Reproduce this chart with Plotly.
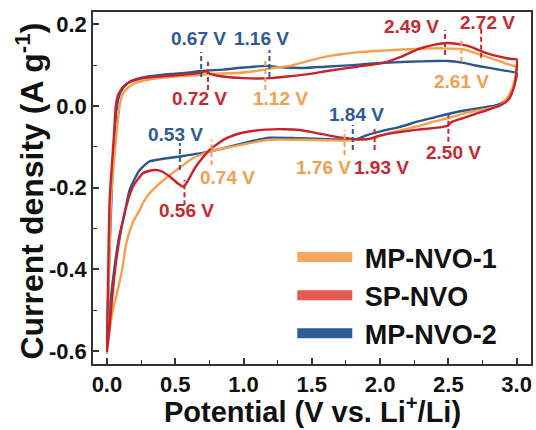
import plotly.graph_objects as go

# ---------------- data ----------------
# MP-NVO-1 (orange)
mp1_ox_v = [0.0, 0.01, 0.02, 0.03, 0.05, 0.07, 0.093, 0.11, 0.14, 0.2, 0.3, 0.4, 0.5, 0.6, 0.7, 0.8, 0.9, 1.0,
            1.12, 1.2, 1.34, 1.45, 1.58, 1.7, 1.83, 2.0, 2.1, 2.28, 2.47, 2.6, 2.74, 2.91, 3.0]
mp1_ox_i = [-0.60, -0.48, -0.35, -0.23, -0.14, -0.07, 0.0, 0.025, 0.04, 0.055, 0.064, 0.069, 0.072, 0.074, 0.077,
            0.079, 0.080, 0.082, 0.087, 0.092, 0.098, 0.108, 0.119, 0.126, 0.131, 0.135, 0.137, 0.140, 0.141, 0.139,
            0.125, 0.105, 0.096]
mp1_red_v = [3.0, 2.99, 2.97, 2.92, 2.87, 2.77, 2.64, 2.52, 2.40, 2.26, 2.05, 1.97, 1.85, 1.76, 1.6, 1.4, 1.19,
             1.0, 0.87, 0.77, 0.74, 0.63, 0.51, 0.385, 0.31, 0.263, 0.24, 0.19, 0.14, 0.117, 0.08, 0.044, 0.02, 0.0]
mp1_red_i = [0.096, 0.07, 0.045, 0.015, 0.0, -0.008, -0.016, -0.028, -0.038, -0.051, -0.068, -0.078, -0.083,
             -0.085, -0.084, -0.083, -0.083, -0.094, -0.103, -0.110, -0.113, -0.128, -0.157, -0.19, -0.215, -0.238,
             -0.255, -0.285, -0.34, -0.39, -0.45, -0.5, -0.55, -0.6]

# SP-NVO (red)
sp_ox_v = [0.0, 0.005, 0.012, 0.02, 0.035, 0.05, 0.065, 0.08, 0.10, 0.13, 0.18, 0.25, 0.35, 0.5, 0.6, 0.68, 0.72,
           0.76, 0.85, 1.0, 1.2, 1.35, 1.5, 1.6, 1.83, 2.03, 2.15, 2.28, 2.4, 2.49, 2.6, 2.68, 2.74, 2.82, 2.91,
           2.96, 3.0, 3.0]
sp_ox_i = [-0.605, -0.5, -0.35, -0.23, -0.15, -0.08, 0.0, 0.025, 0.038, 0.05, 0.06, 0.067, 0.071, 0.075, 0.078,
           0.081, 0.085, 0.078, 0.072, 0.068, 0.068, 0.073, 0.079, 0.085, 0.096, 0.106, 0.120, 0.139, 0.150, 0.154,
           0.150, 0.143, 0.134, 0.125, 0.118, 0.115, 0.114, 0.09]
sp_red_v = [2.99, 2.97, 2.94, 2.89, 2.83, 2.77, 2.64, 2.56, 2.52, 2.50, 2.45, 2.28, 2.1, 1.97, 1.93, 1.85, 1.75,
            1.65, 1.5, 1.41, 1.3, 1.16, 1.0, 0.87, 0.75, 0.65, 0.59, 0.56, 0.52, 0.46, 0.40, 0.36, 0.30, 0.263,
            0.19, 0.141, 0.10, 0.06, 0.03, 0.0]
sp_red_i = [0.06, 0.035, 0.015, 0.003, -0.005, -0.012, -0.026, -0.035, -0.040, -0.048, -0.052, -0.058, -0.066,
            -0.075, -0.080, -0.082, -0.079, -0.074, -0.064, -0.059, -0.057, -0.058, -0.065, -0.080, -0.108,
            -0.149, -0.185, -0.198, -0.190, -0.173, -0.160, -0.157, -0.160, -0.165, -0.198, -0.247, -0.31, -0.40,
            -0.5, -0.605]

# MP-NVO-2 (blue)
mp2_ox_v = [0.0, 0.01, 0.025, 0.04, 0.055, 0.07, 0.09, 0.12, 0.16, 0.22, 0.30, 0.40, 0.50, 0.60, 0.67, 0.75, 0.85,
            1.0, 1.16, 1.3, 1.45, 1.6, 1.8, 2.0, 2.2, 2.4, 2.5, 2.6, 2.7, 2.8, 2.9, 3.0]
mp2_ox_i = [-0.60, -0.45, -0.30, -0.17, -0.08, -0.01, 0.025, 0.045, 0.058, 0.066, 0.072, 0.076, 0.079, 0.082,
            0.085, 0.087, 0.089, 0.094, 0.098, 0.094, 0.093, 0.096, 0.100, 0.105, 0.108, 0.110, 0.110, 0.106, 0.099,
            0.093, 0.087, 0.080]
mp2_red_v = [2.99, 2.97, 2.94, 2.89, 2.83, 2.77, 2.64, 2.52, 2.4, 2.28, 2.14, 2.03, 1.9, 1.84, 1.8, 1.65, 1.4,
             1.19, 1.0, 0.75, 0.53, 0.385, 0.31, 0.24, 0.166, 0.125, 0.09, 0.056, 0.02, 0.0]
mp2_red_i = [0.06, 0.04, 0.02, 0.007, 0.0, -0.003, -0.010, -0.018, -0.028, -0.038, -0.052, -0.060, -0.072, -0.080,
             -0.083, -0.082, -0.079, -0.078, -0.091, -0.112, -0.124, -0.131, -0.136, -0.157, -0.206, -0.271, -0.32,
             -0.394, -0.5, -0.6]

series_names = ["MP-NVO-1", "SP-NVO", "MP-NVO-2"]

# peak annotations: label, potential of the dashed marker, dash bottom/top current, text position
peak_labels = ["0.67 V", "1.16 V", "0.72 V", "1.12 V", "2.49 V", "2.72 V", "2.61 V",
               "1.84 V", "1.76 V", "1.93 V", "2.50 V", "0.53 V", "0.74 V", "0.56 V"]
peak_series = [2, 2, 1, 0, 1, 1, 0, 2, 0, 1, 1, 2, 0, 1]
peak_v = [0.69, 1.19, 0.74, 1.16, 2.475, 2.74, 2.595, 1.80, 1.74, 1.96, 2.50, 0.534, 0.766, 0.568]
peak_i_lo = [0.071, 0.071, 0.039, 0.039, 0.125, 0.118, 0.108, -0.108, -0.120, -0.108, -0.088, -0.157, -0.145, -0.243]
peak_i_hi = [0.132, 0.137, 0.108, 0.113, 0.186, 0.191, 0.162, -0.047, -0.059, -0.054, -0.022, -0.091, -0.083, -0.181]
label_v = [0.671, 1.134, 0.68, 1.27, 2.231, 2.787, 2.597, 1.829, 1.587, 2.012, 2.535, 0.501, 0.881, 0.582]
label_i = [0.165, 0.166, 0.017, 0.017, 0.194, 0.204, 0.061, -0.021, -0.151, -0.151, -0.114, -0.071, -0.175, -0.255]

x_ticks = [0.0, 0.5, 1.0, 1.5, 2.0, 2.5, 3.0]
y_ticks = [-0.6, -0.4, -0.2, 0.0, 0.2]
x_title = "Potential (V vs. Li<sup>+</sup>/Li)"
y_title = "Current density (A g<sup>-1</sup>)"

# ---------------- styling ----------------
line_colors = ["#F5A04C", "#C8232C", "#2B5690"]
legend_colors = ["#F5A85C", "#E65A50", "#2F5D95"]
text_colors = ["#F2A050", "#C42A2E", "#2E5B93"]
FONT = "Liberation Sans, Arial, sans-serif"

curves = [(mp1_ox_v + mp1_red_v, mp1_ox_i + mp1_red_i),
          (sp_ox_v + sp_red_v, sp_ox_i + sp_red_i),
          (mp2_ox_v + mp2_red_v, mp2_ox_i + mp2_red_i)]

fig = go.Figure()
# draw order: blue first, then orange, red on top
for k in [2, 0, 1]:
    xv, yv = curves[k]
    fig.add_trace(go.Scatter(x=xv, y=yv, mode="lines", showlegend=False,
                             line=dict(color=line_colors[k], width=2.4, shape="spline", smoothing=0.6),
                             hoverinfo="skip"))
# legend entries
for k in range(3):
    fig.add_trace(go.Scatter(x=[None], y=[None], mode="lines", name="\u00a0" + series_names[k],
                             line=dict(color=legend_colors[k], width=12)))

for lab, s, pv, lo, hi, lv, li in zip(peak_labels, peak_series, peak_v, peak_i_lo, peak_i_hi, label_v, label_i):
    fig.add_shape(type="line", x0=pv, x1=pv, y0=lo, y1=hi, xref="x", yref="y",
                  line=dict(color=text_colors[s], width=2, dash="5px,3px"))
    fig.add_annotation(x=lv, y=li, text=lab, showarrow=False, xref="x", yref="y",
                       font=dict(family=FONT, size=19, color=text_colors[s], weight="bold"))

# axis titles
fig.add_annotation(x=0.5, y=-0.132, xref="paper", yref="paper", text=x_title, showarrow=False,
                   xanchor="center", yanchor="middle",
                   font=dict(family=FONT, size=29, color="#111111", weight="bold"))
fig.add_annotation(x=-0.146, y=0.49, xref="paper", yref="paper", text=y_title, showarrow=False,
                   textangle=-90, xanchor="center", yanchor="middle",
                   font=dict(family=FONT, size=32, color="#111111", weight="bold"))

axis_common = dict(showline=True, linecolor="#333333", linewidth=1.6, mirror=True,
                   ticks="inside", ticklen=6, tickwidth=1.6, tickcolor="#333333",
                   showgrid=False, zeroline=False, automargin=False,
                   tickfont=dict(family=FONT, size=22, color="#111111", weight="bold"))

fig.update_xaxes(range=[-0.102, 3.105], tickvals=x_ticks, ticktext=[f"{t:.1f}" for t in x_ticks],
                 minor=dict(ticks="inside", ticklen=4, dtick=0.25, tick0=0, tickcolor="#333333", tickwidth=1.4),
                 **axis_common)
fig.update_yaxes(range=[-0.632, 0.230], tickvals=y_ticks, ticktext=[f"{t:.1f}" for t in y_ticks],
                 minor=dict(ticks="inside", ticklen=4, dtick=0.1, tick0=0, tickcolor="#333333", tickwidth=1.4),
                 **axis_common)

fig.update_layout(width=536, height=430, margin=dict(l=93, r=5, t=12, b=66, autoexpand=False),
                  plot_bgcolor="white", paper_bgcolor="white",
                  legend=dict(x=0.455, y=0.372, xanchor="left", yanchor="top", itemwidth=55,
                              bgcolor="rgba(0,0,0,0)", tracegroupgap=0,
                              font=dict(family=FONT, size=27, color="#111111", weight="bold")),
                  showlegend=True)

fig.write_html("out.html", config={"displayModeBar": False},
               post_script="document.body.style.margin='0';document.body.style.overflow='hidden';")
